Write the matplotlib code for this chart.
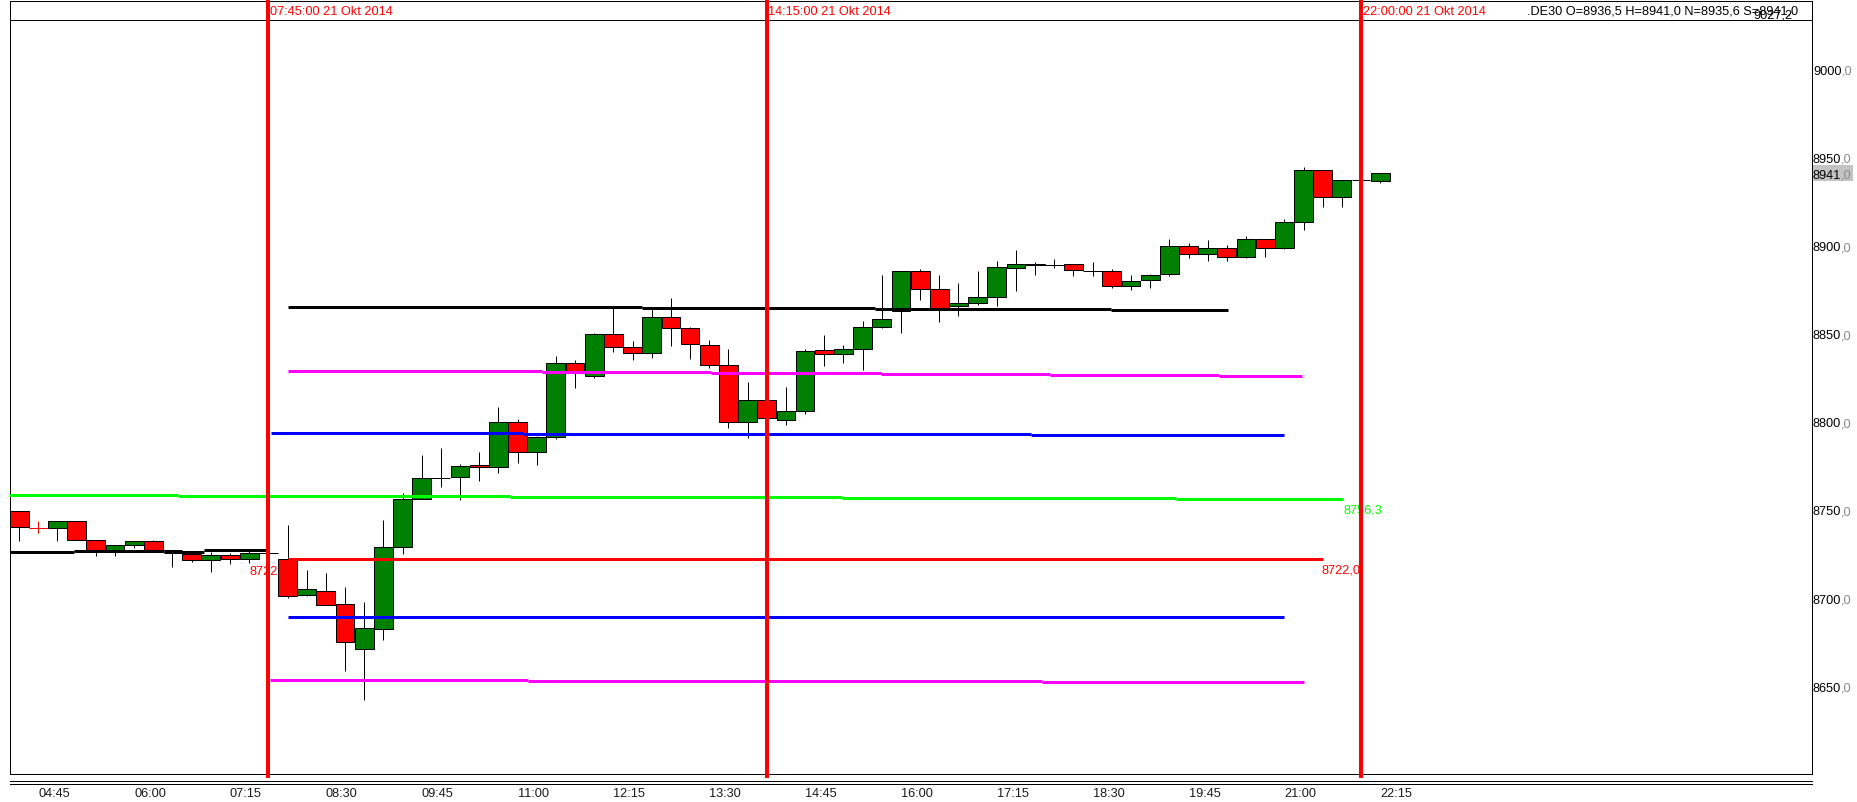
import matplotlib
matplotlib.use("Agg")
import matplotlib.pyplot as plt
from matplotlib.patches import Rectangle
from matplotlib.transforms import IdentityTransform

plt.rcParams['font.family'] = ['Liberation Sans', 'DejaVu Sans']

# ------------------------------------------------------------------ data
times = ["04:30", "04:45", "05:00", "05:15", "05:30", "05:45", "06:00", "06:15",
         "06:30", "06:45", "07:00", "07:15", "07:30", "07:45", "08:00", "08:15",
         "08:30", "08:45", "09:00", "09:15", "09:30", "09:45", "10:00", "10:15",
         "10:30", "10:45", "11:00", "11:15", "11:30", "11:45", "12:00", "12:15",
         "12:30", "12:45", "13:00", "13:15", "13:30", "13:45", "14:00", "14:15",
         "14:30", "14:45", "15:00", "15:15", "15:30", "15:45", "16:00", "16:15",
         "16:30", "16:45", "17:00", "17:15", "17:30", "17:45", "18:00", "18:15",
         "18:30", "18:45", "19:00", "19:15", "19:30", "19:45", "20:00", "20:15",
         "20:30", "20:45", "21:00", "21:15", "21:30", "21:45", "22:00", "22:15"]

opens = [8749.2, 8740.0, 8739.8, 8743.6, 8732.8, 8727.3, 8730.0, 8732.2,
         8727.1, 8725.2, 8721.5, 8724.6, 8722.2, 8725.6, 8722.0, 8701.6,
         8703.9, 8696.5, 8671.0, 8682.3, 8728.8, 8756.1, 8768.3, 8768.6,
         8775.4, 8774.3, 8799.7, 8782.7, 8791.3, 8833.1, 8825.9, 8850.1,
         8842.2, 8838.9, 8859.2, 8853.0, 8843.4, 8832.0, 8799.9, 8812.2,
         8800.8, 8806.0, 8840.6, 8838.3, 8841.1, 8853.6, 8862.7, 8885.3,
         8875.1, 8865.5, 8867.2, 8870.6, 8887.0, 8889.8, 8888.8, 8889.3,
         8885.6, 8885.3, 8876.9, 8880.3, 8883.6, 8899.6, 8895.0, 8898.5,
         8893.3, 8903.5, 8898.5, 8913.2, 8942.6, 8927.4, 8937.3, 8936.5]

highs = [8749.2, 8743.6, 8743.6, 8743.6, 8732.8, 8730.0, 8732.2, 8732.9,
         8727.3, 8725.7, 8726.4, 8725.7, 8726.7, 8725.6, 8741.5, 8715.9,
         8714.3, 8706.3, 8697.8, 8744.3, 8759.6, 8781.1, 8785.0, 8776.0,
         8782.9, 8808.3, 8801.6, 8792.2, 8837.2, 8835.0, 8850.5, 8864.3,
         8845.8, 8863.9, 8870.2, 8853.9, 8846.3, 8841.3, 8822.5, 8813.3,
         8819.7, 8841.3, 8849.2, 8843.5, 8857.1, 8883.2, 8885.8, 8886.6,
         8883.2, 8878.7, 8885.5, 8891.2, 8897.4, 8890.4, 8892.3, 8889.8,
         8890.6, 8886.5, 8883.2, 8883.6, 8903.7, 8901.5, 8903.2, 8900.3,
         8905.4, 8904.0, 8915.1, 8944.5, 8942.6, 8937.2, 8937.3, 8941.0]

lows = [8732.5, 8736.7, 8732.5, 8732.8, 8724.1, 8724.1, 8728.4, 8727.3,
        8717.8, 8720.4, 8715.0, 8719.5, 8719.7, 8725.6, 8700.3, 8701.0,
        8696.0, 8658.9, 8642.3, 8676.4, 8725.2, 8756.1, 8763.3, 8755.9,
        8766.6, 8771.1, 8776.9, 8775.7, 8790.5, 8819.4, 8825.0, 8839.8,
        8835.3, 8836.4, 8843.1, 8835.9, 8830.4, 8796.7, 8790.7, 8799.2,
        8798.4, 8804.5, 8831.9, 8833.6, 8829.6, 8853.1, 8850.6, 8869.3,
        8856.9, 8860.3, 8866.1, 8865.9, 8874.4, 8883.4, 8887.2, 8882.8,
        8882.8, 8875.8, 8875.0, 8876.1, 8882.7, 8893.1, 8891.4, 8891.4,
        8892.9, 8893.7, 8898.0, 8909.1, 8921.8, 8921.8, 8937.3, 8935.6]

closes = [8740.2, 8739.9, 8743.6, 8732.8, 8727.3, 8730.0, 8732.2, 8727.3,
          8727.1, 8721.5, 8724.6, 8722.2, 8725.6, 8725.6, 8701.0, 8705.0,
          8696.0, 8674.9, 8682.8, 8728.8, 8756.1, 8768.0, 8768.3, 8774.8,
          8774.3, 8799.7, 8782.7, 8791.3, 8833.1, 8829.0, 8849.6, 8842.2,
          8838.9, 8859.2, 8853.0, 8843.9, 8832.0, 8799.7, 8812.2, 8802.1,
          8806.0, 8840.0, 8838.3, 8841.1, 8853.6, 8858.1, 8885.3, 8875.1,
          8864.7, 8867.2, 8870.6, 8888.1, 8889.8, 8888.7, 8888.8, 8885.9,
          8885.6, 8876.9, 8879.7, 8883.1, 8899.6, 8895.0, 8898.5, 8893.3,
          8903.5, 8898.5, 8913.2, 8942.6, 8927.4, 8937.0, 8937.3, 8941.0]

tick_times = ["04:45", "06:00", "07:15", "08:30", "09:45", "11:00", "12:15", "13:30",
              "14:45", "16:00", "17:15", "18:30", "19:45", "21:00", "22:15"]
price_ticks = [8650, 8700, 8750, 8800, 8850, 8900, 8950, 9000]

marker_times = ["07:45", "14:15", "22:00"]
marker_labels = ["07:45:00 21 Okt 2014", "14:15:00 21 Okt 2014", "22:00:00 21 Okt 2014"]

header_text = ".DE30 O=8936,5 H=8941,0 N=8935,6 S=8941,0"
axis_top_label = "9027,2"

# stepped level lines: breakpoints (times) and one value per segment
black_pre_breaks = ["04:00", "05:13", "06:23", "06:55", "07:44"]
black_pre_vals = [8726.0, 8726.7, 8726.4, 8727.3]
black_breaks = ["08:00", "12:37", "15:40", "18:44", "20:16"]
black_vals = [8865.0, 8864.4, 8863.8, 8863.3]
magenta_up_breaks = ["08:00", "11:19", "13:31", "15:44", "17:57", "20:09", "21:14"]
magenta_up_vals = [8828.7, 8828.1, 8827.5, 8827.0, 8826.4, 8825.8]
blue_up_breaks = ["07:47", "11:04", "17:42", "21:00"]
blue_up_vals = [8793.5, 8792.9, 8792.4]
green_breaks = ["04:00", "06:34", "10:54", "15:14", "19:35", "21:46"]
green_vals = [8758.3, 8757.7, 8757.2, 8756.8, 8756.2]
red_breaks = ["08:00", "21:30"]
red_vals = [8722.0]
blue_low_breaks = ["08:00", "21:00"]
blue_low_vals = [8689.1]
magenta_low_breaks = ["07:46", "11:08", "17:50", "21:15"]
magenta_low_vals = [8653.7, 8652.9, 8652.2]

green_label = "8756,3"
red_label = "8722,0"

# ------------------------------------------------------------------ layout
W, H, DPI = 1857, 803, 100
PT = 72.0 / DPI
FS = 9.2
X0, X1 = 10, 1812
Y_TOP, Y_HDR, Y_BOT = 2, 21.3, 775
C_RED, C_GREEN, C_LIME = '#ff0000', '#008000', '#00ff00'
C_MAG, C_BLUE = '#ff00ff', '#0000ff'


def t2i(s):
    h, m = s.split(':')
    return (int(h) * 60 + int(m) - (4 * 60 + 45)) / 15.0


fig = plt.figure(figsize=(W / DPI, H / DPI), dpi=DPI)
fig.patch.set_facecolor('white')
ax = fig.add_axes([X0 / W, 1 - Y_BOT / H, (X1 - X0) / W, (Y_BOT - Y_HDR) / H])
axh = fig.add_axes([X0 / W, 1 - Y_HDR / H, (X1 - X0) / W, (Y_HDR - Y_TOP) / H], sharex=ax)
ax.set_zorder(2)
axh.set_zorder(1)

ax.set_xlim((X0 - 38.3) / 19.17, (X1 - 38.3) / 19.17)
ax.set_ylim(8600.2, 9027.8)
axh.set_ylim(0, 1)

for a in (ax, axh):
    for s in a.spines.values():
        s.set_color('black')
        s.set_linewidth(1.0 * PT)
axh.tick_params(axis='both', which='both', length=0, labelbottom=False, labelleft=False)
axh.set_yticks([])
ax.tick_params(axis='y', left=False, labelleft=False)
ax.set_yticks([])

# ------------------------------------------------------------------ candles
xs = [t2i(t) for t in times]
wick_colors = []
bx, bh, bb, bc = [], [], [], []
cross_x, cross_y, cross_c = [], [], []
for x, o, c in zip(xs, opens, closes):
    if abs(o - c) < 0.5:
        col = 'black' if o == c else (C_RED if o > c else C_GREEN)
        cross_x.append(x)
        cross_y.append((o + c) / 2)
        cross_c.append(col)
        wick_colors.append(col)
    else:
        bx.append(x)
        bh.append(abs(c - o))
        bb.append(min(o, c))
        bc.append(C_GREEN if c > o else C_RED)
        wick_colors.append('black')

ax.vlines(xs, lows, highs, colors=wick_colors, linewidth=1.0 * PT, zorder=2)
ax.bar(bx, bh, bottom=bb, width=0.98, color=bc, edgecolor='black',
       linewidth=1.0 * PT, zorder=3)
ax.hlines(cross_y, [x - 0.49 for x in cross_x], [x + 0.49 for x in cross_x],
          colors=cross_c, linewidth=1.0 * PT, zorder=3)


# ------------------------------------------------------------------ levels
def step_line(breaks, vals, color):
    xb = [t2i(b) for b in breaks]
    ax.hlines(vals, xb[:-1], xb[1:], colors=color, linewidth=3 * PT, zorder=4)


step_line(black_pre_breaks, black_pre_vals, 'black')
step_line(black_breaks, black_vals, 'black')
step_line(magenta_up_breaks, magenta_up_vals, C_MAG)
step_line(blue_up_breaks, blue_up_vals, C_BLUE)
step_line(green_breaks, green_vals, C_LIME)
step_line(red_breaks, red_vals, C_RED)
step_line(blue_low_breaks, blue_low_vals, C_BLUE)
step_line(magenta_low_breaks, magenta_low_vals, C_MAG)

ax.annotate(green_label, xy=(t2i(green_breaks[-1]), green_vals[-1]),
            xytext=(0, -13.3 * PT), textcoords='offset points', ha='left',
            va='baseline', color=C_LIME, fontsize=FS, zorder=5)
ax.annotate(red_label, xy=(t2i(red_breaks[-1]), red_vals[0]),
            xytext=(-0.7 * PT, -13 * PT), textcoords='offset points', ha='left',
            va='baseline', color=C_RED, fontsize=FS, zorder=5)
ax.annotate(red_label, xy=(t2i("07:30"), red_vals[0]),
            xytext=(0, -14 * PT), textcoords='offset points', ha='left',
            va='baseline', color=C_RED, fontsize=FS, zorder=1)

# ------------------------------------------------------------------ markers
span = Y_BOT - Y_HDR
for t, lab in zip(marker_times, marker_labels):
    ax.axvline(t2i(t), ymin=-(777 - Y_BOT) / span, ymax=(Y_BOT - 1) / span,
               color=C_RED, linewidth=4 * PT, clip_on=False, zorder=10)
    axh.annotate(lab, xy=(t2i(t), 0), xycoords=('data', 'axes fraction'),
                 xytext=(1.5 * PT, (Y_HDR - 15) * PT), textcoords='offset points',
                 ha='left', va='baseline', color=C_RED, fontsize=FS,
                 annotation_clip=False)

fig.text(1527 / W, 1 - 15 / H, header_text, ha='left', va='baseline',
         fontsize=FS, color='black')
fig.text(1753 / W, 1 - 18.3 / H, axis_top_label, ha='left', va='baseline',
         fontsize=FS, color='black')

# ------------------------------------------------------------------ x axis
ax.set_xticks([t2i(t) for t in tick_times])
ax.set_xticklabels(tick_times)
for lab in ax.get_xticklabels():
    lab.set_ha('left')
ax.tick_params(axis='x', length=0, pad=9.5, labelsize=FS, labelcolor='#1a1a1a')
for yy in (782.3, 785.0):
    yf = -(yy - Y_BOT) / span
    ax.plot([0, 1], [yf, yf], transform=ax.transAxes, clip_on=False,
            color='black', linewidth=1.0 * PT)

# ------------------------------------------------------------------ y labels
fig.canvas.draw()
renderer = fig.canvas.get_renderer()


def price_label(value_text, y):
    whole, frac = value_text.split(',')
    a = ax.annotate(whole, xy=(1, y), xycoords=('axes fraction', 'data'),
                    xytext=(1 * PT, -4.5 * PT), textcoords='offset points',
                    ha='left', va='baseline', fontsize=FS, color='black',
                    annotation_clip=False)
    w = a.get_window_extent(renderer).width
    ax.annotate(',' + frac, xy=(1, y), xycoords=('axes fraction', 'data'),
                xytext=((1 + w) * PT, -4.5 * PT), textcoords='offset points',
                ha='left', va='baseline', fontsize=FS, color='#8a8a8a',
                annotation_clip=False)


for v in price_ticks:
    price_label(f"{v:.1f}".replace('.', ','), v)

last = closes[-1]
y_disp = ax.transData.transform((0, last))[1]
fig.add_artist(Rectangle((X1 + 0.5, y_disp - 8), 40, 16, transform=IdentityTransform(),
                         facecolor='#c3c3c3', edgecolor='none', zorder=1))
price_label(f"{last:.1f}".replace('.', ','), last)

fig.savefig("out.png", dpi=DPI, facecolor='white')
